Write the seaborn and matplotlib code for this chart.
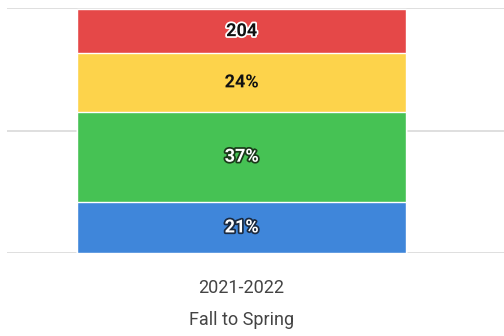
import numpy as np
import pandas as pd
import matplotlib
matplotlib.use("Agg")
import matplotlib.pyplot as plt
import matplotlib.patheffects as pe
import seaborn as sns

# Data (bottom to top)
category = ["2021-2022\nFall to Spring"]
segments = ["Blue", "Green", "Yellow", "Red"]
values = [21, 37, 24, 18]
labels = ["21%", "37%", "24%", "204"]
colors = ["#3f86da", "#46c254", "#fdd34b", "#e54848"]
label_fill = ["white", "white", "#111111", "#111111"]
label_edge = ["#1a2a40", "#1a3a1a", "#fdd34b", "white"]

sns.set_theme(style="white")
plt.rcParams["font.family"] = ["Roboto", "DejaVu Sans"]

fig = plt.figure(figsize=(5.04, 3.36), dpi=100)
ax = fig.add_axes([7 / 504, 1 - 253 / 336, 497 / 504, 245 / 336])

cum = np.cumsum(values)
# draw from top (largest cumulative) down so each lower segment overlays
for i in reversed(range(len(values))):
    df = pd.DataFrame({"cat": category, "val": [cum[i]]})
    sns.barplot(data=df, x="cat", y="val", color=colors[i], saturation=1,
                width=0.8, edgecolor="white", linewidth=1.0, ax=ax, zorder=2)

for i in range(len(values)):
    mid = cum[i] - values[i] / 2
    ax.text(0, mid, labels[i], ha="center", va="center", fontsize=13,
            fontweight="bold", color=label_fill[i], zorder=5,
            path_effects=[pe.withStroke(linewidth=2.5, foreground=label_edge[i])])

ax.set_ylim(0, 100.5)
ax.set_xlim(-0.5705, 0.638)
ax.set_yticks([0, 50, 100.5])
ax.yaxis.grid(True, color="#d9d9d9", linewidth=1.2, zorder=0)
ax.set_axisbelow(True)
ax.tick_params(axis="y", left=False, labelleft=False)
ax.tick_params(axis="x", bottom=False, pad=13, labelsize=13, labelcolor="#444444")
for lbl in ax.get_xticklabels():
    lbl.set_linespacing(1.95)
for s in ax.spines.values():
    s.set_visible(False)
ax.set_xlabel("")
ax.set_ylabel("")

fig.savefig("out.png", dpi=100)
